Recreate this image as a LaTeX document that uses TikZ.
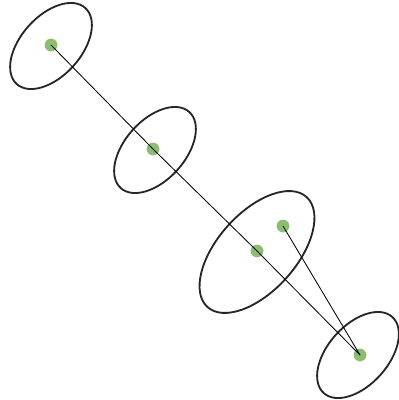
\documentclass[tikz,border=0pt]{standalone}
\usepackage{tikz}
\definecolor{dotgreen}{rgb}{0.55,0.74,0.45}
\definecolor{ringgray}{rgb}{0.15,0.15,0.15}

\begin{document}
\begin{tikzpicture}[x=0.025cm,y=-0.025cm]
    \useasboundingbox (0,0) rectangle (399,400);
    \coordinate (c1) at (51, 46);
    \coordinate (c2) at (155, 150);
    \coordinate (c3) at (257, 252);
    \coordinate (c4) at (358, 355);
    \draw[ringgray, line width=1.3pt, rotate around={48:(c1)}] (c1) ellipse (1.28cm and 0.75cm);
    \draw[ringgray, line width=1.3pt, rotate around={48:(c2)}] (c2) ellipse (1.28cm and 0.75cm);
    \draw[ringgray, line width=1.3pt, rotate around={48:(c3)}] (c3) ellipse (1.85cm and 0.98cm);
    \draw[ringgray, line width=1.3pt, rotate around={48:(c4)}] (c4) ellipse (1.28cm and 0.75cm);
    \node[circle, fill=dotgreen, inner sep=0pt, minimum size=0.32cm] (d1) at (51, 45) {};
    \node[circle, fill=dotgreen, inner sep=0pt, minimum size=0.32cm] (d2) at (153, 149) {};
    \node[circle, fill=dotgreen, inner sep=0pt, minimum size=0.32cm] (d3) at (257, 251) {};
    \node[circle, fill=dotgreen, inner sep=0pt, minimum size=0.32cm] (d4) at (360, 355) {};
    \node[circle, fill=dotgreen, inner sep=0pt, minimum size=0.32cm] (d5) at (283, 226) {};
    \draw[line width=0.6pt] (d1.center) -- (d2.center) -- (d3.center) -- (d4.center);
    \draw[line width=0.6pt] (d5.center) -- (d4.center);
\end{tikzpicture}
\end{document}
